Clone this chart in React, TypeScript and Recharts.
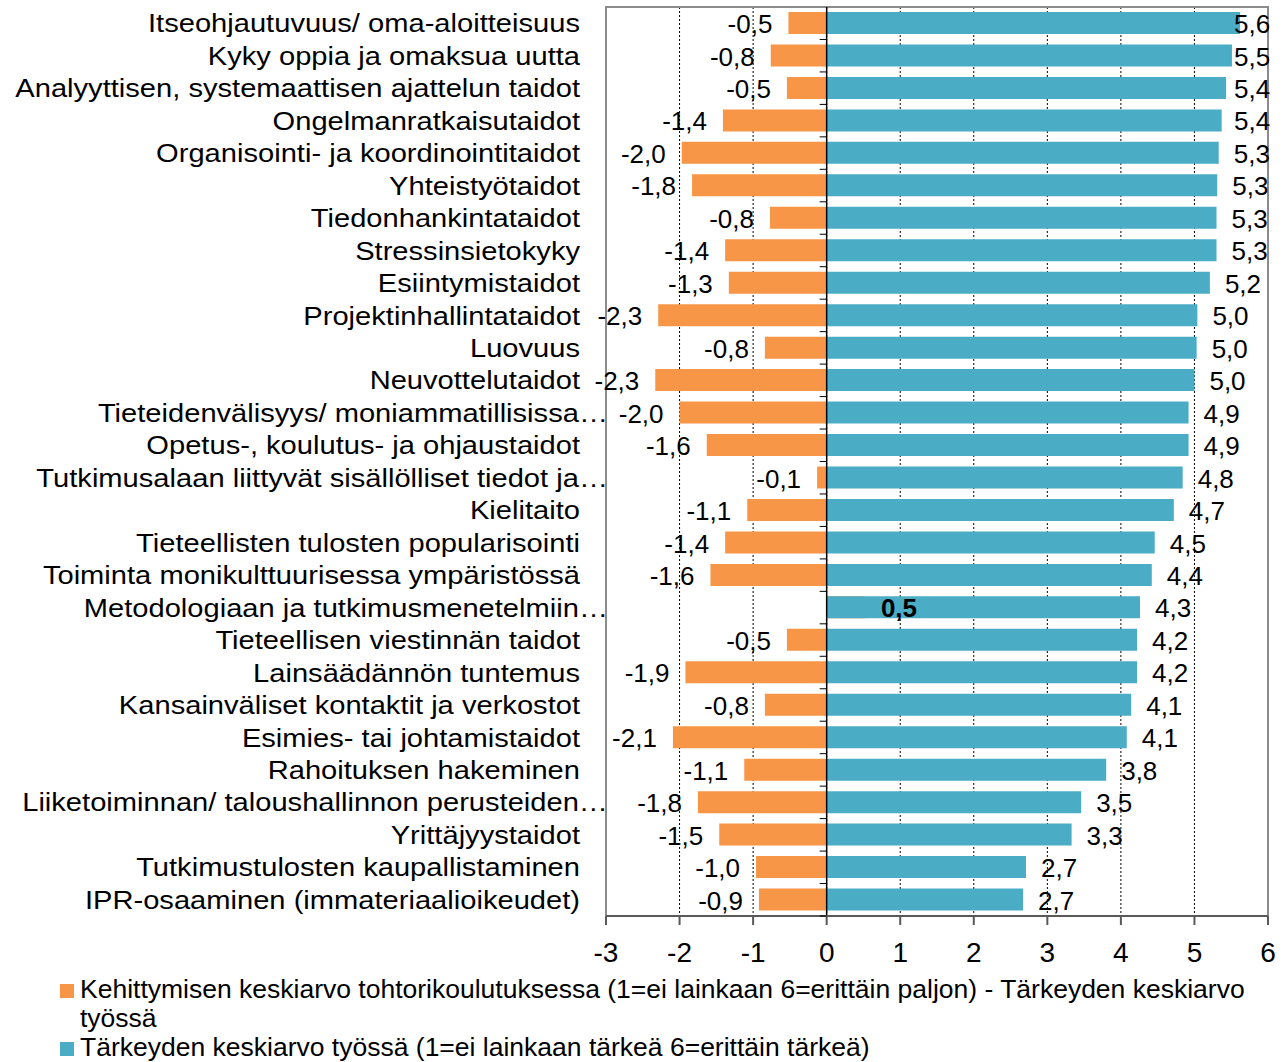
import React from 'react';
import {
  BarChart,
  Bar,
  XAxis,
  YAxis,
  CartesianGrid,
  ReferenceLine,
  ReferenceArea,
  LabelList,
} from 'recharts';

const categories = [
  'Itseohjautuvuus/ oma-aloitteisuus',
  'Kyky oppia ja omaksua uutta',
  'Analyyttisen, systemaattisen ajattelun taidot',
  'Ongelmanratkaisutaidot',
  'Organisointi- ja koordinointitaidot',
  'Yhteistyötaidot',
  'Tiedonhankintataidot',
  'Stressinsietokyky',
  'Esiintymistaidot',
  'Projektinhallintataidot',
  'Luovuus',
  'Neuvottelutaidot',
  'Tieteidenvälisyys/ moniammatillisissa…',
  'Opetus-, koulutus- ja ohjaustaidot',
  'Tutkimusalaan liittyvät sisällölliset tiedot ja…',
  'Kielitaito',
  'Tieteellisten tulosten popularisointi',
  'Toiminta monikulttuurisessa ympäristössä',
  'Metodologiaan ja tutkimusmenetelmiin…',
  'Tieteellisen viestinnän taidot',
  'Lainsäädännön tuntemus',
  'Kansainväliset kontaktit ja verkostot',
  'Esimies- tai johtamistaidot',
  'Rahoituksen hakeminen',
  'Liiketoiminnan/ taloushallinnon perusteiden…',
  'Yrittäjyystaidot',
  'Tutkimustulosten kaupallistaminen',
  'IPR-osaaminen (immateriaalioikeudet)',
];

// kehittyminen - tärkeys
const diffValues = [
  -0.52, -0.76, -0.54, -1.41, -1.97, -1.83, -0.77, -1.38, -1.33, -2.29, -0.84, -2.33, -2.0, -1.63,
  -0.13, -1.08, -1.38, -1.58, 0.52, -0.54, -1.92, -0.84, -2.09, -1.12, -1.75, -1.46, -0.96, -0.92,
];

// tärkeys työssä
const importanceValues = [
  5.62, 5.51, 5.43, 5.37, 5.33, 5.31, 5.3, 5.3, 5.21, 5.04, 5.03, 5.0, 4.92, 4.92, 4.84, 4.72, 4.46,
  4.42, 4.26, 4.22, 4.22, 4.14, 4.08, 3.8, 3.46, 3.33, 2.71, 2.67,
];

const xTicks = [-3, -2, -1, 0, 1, 2, 3, 4, 5, 6];

const diffLabel =
  'Kehittymisen keskiarvo tohtorikoulutuksessa (1=ei lainkaan 6=erittäin paljon) - Tärkeyden keskiarvo työssä';
const importanceLabel = 'Tärkeyden keskiarvo työssä (1=ei lainkaan tärkeä 6=erittäin tärkeä)';

const ORANGE = '#F79646';
const BLUE = '#4BACC6';
const FONT = '"Liberation Sans", Arial, sans-serif';

const data = categories.map((name, i) => ({
  name,
  diff: diffValues[i],
  importance: importanceValues[i],
}));

// plot geometry (page == chart coords)
const PLOT_LEFT = 606;
const PLOT_RIGHT = 1268;
const PLOT_TOP = 7;
const PLOT_BOTTOM = 916;
const ZERO_X = PLOT_LEFT + ((0 - -3) / 9) * (PLOT_RIGHT - PLOT_LEFT);
const BAND = (PLOT_BOTTOM - PLOT_TOP) / categories.length;

const fmt = (v: number) => v.toFixed(1).replace('.', ',');

// the original labels are a bit wider than Arial, so stretch them horizontally
const CategoryTick = ({ y, payload }: any) => {
  const label: string = payload.value;
  const truncated = label.endsWith('…');
  const endX = truncated ? 608 : 580;
  return (
    <g>
      <text
        transform={`translate(${endX},${y}) scale(1.12,1)`}
        x={0}
        y={0}
        dy="0.35em"
        textAnchor="end"
        fontSize={26}
        fontFamily={FONT}
        fill="#000"
      >
        {label}
      </text>
      <line x1={ZERO_X - 7} x2={ZERO_X} y1={y + BAND / 2} y2={y + BAND / 2} stroke="#000" />
    </g>
  );
};

const rectOf = (props: any) => {
  const vb = props.viewBox && props.viewBox.width !== undefined ? props.viewBox : props;
  const x = Number(vb.x);
  const w = Number(vb.width);
  return {
    left: Math.min(x, x + w),
    right: Math.max(x, x + w),
    cy: Number(vb.y) + Number(vb.height) / 2,
  };
};

const DiffLabel = (props: any) => {
  const v = Number(props.value);
  const { left, right, cy } = rectOf(props);
  const positive = v > 0;
  return (
    <text
      x={positive ? right + 16 : left - 16}
      y={cy + 1}
      dy="0.35em"
      textAnchor={positive ? 'start' : 'end'}
      fontSize={26}
      fontWeight={positive ? 'bold' : 'normal'}
      fontFamily={FONT}
      fill="#000"
    >
      {fmt(v)}
    </text>
  );
};

const ImportanceLabel = (props: any) => {
  const v = Number(props.value);
  const { right, cy } = rectOf(props);
  return (
    <text
      x={Math.min(right + 15, PLOT_RIGHT - 34)}
      y={cy + 1}
      dy="0.35em"
      textAnchor="start"
      fontSize={26}
      fontFamily={FONT}
      fill="#000"
    >
      {fmt(v)}
    </text>
  );
};

const LegendRow = ({ color, text }: { color: string; text: string }) => (
  <div style={{ display: 'flex', alignItems: 'flex-start' }}>
    <span
      style={{
        display: 'inline-block',
        width: 14,
        height: 14,
        background: color,
        marginTop: 9,
        marginRight: 6,
        flex: 'none',
      }}
    />
    <span>{text}</span>
  </div>
);

export default function App() {
  return (
    <div style={{ position: 'absolute', left: 0, top: 0, width: 1285, height: 1062, background: '#fff' }}>
      <BarChart
        layout="vertical"
        width={1285}
        height={975}
        data={data}
        margin={{ top: PLOT_TOP, right: 1285 - PLOT_RIGHT, left: 0, bottom: 0 }}
        barGap={-22}
      >
        <CartesianGrid horizontal={false} stroke="#000" strokeDasharray="2 2" />
        <XAxis
          type="number"
          domain={[-3, 6]}
          ticks={xTicks}
          allowDataOverflow
          height={59}
          stroke="#595959"
          strokeWidth={2}
          tickSize={9}
          tickMargin={17}
          tick={{ fontSize: 28, fill: '#000', fontFamily: FONT }}
        />
        <YAxis
          type="category"
          dataKey="name"
          width={PLOT_LEFT}
          interval={0}
          axisLine={false}
          tickLine={false}
          tick={<CategoryTick />}
        />
        <Bar dataKey="diff" fill={ORANGE} barSize={22} isAnimationActive={false} />
        <Bar dataKey="importance" fill={BLUE} barSize={22} isAnimationActive={false}>
          <LabelList dataKey="importance" content={<ImportanceLabel />} />
        </Bar>
        <Bar dataKey="diff" fill="transparent" barSize={22} isAnimationActive={false}>
          <LabelList dataKey="diff" content={<DiffLabel />} />
        </Bar>
        <ReferenceLine x={0} stroke="#000" strokeWidth={1.5} />
        <ReferenceArea x1={-3} x2={6} fill="none" stroke="#8c8c8c" strokeWidth={2} />
      </BarChart>
      <div
        style={{
          position: 'absolute',
          left: 60,
          top: 975,
          width: 1200,
          fontFamily: FONT,
          fontSize: 26.5,
          lineHeight: '29px',
          color: '#000',
        }}
      >
        <LegendRow color={ORANGE} text={diffLabel} />
        <LegendRow color={BLUE} text={importanceLabel} />
      </div>
    </div>
  );
}
